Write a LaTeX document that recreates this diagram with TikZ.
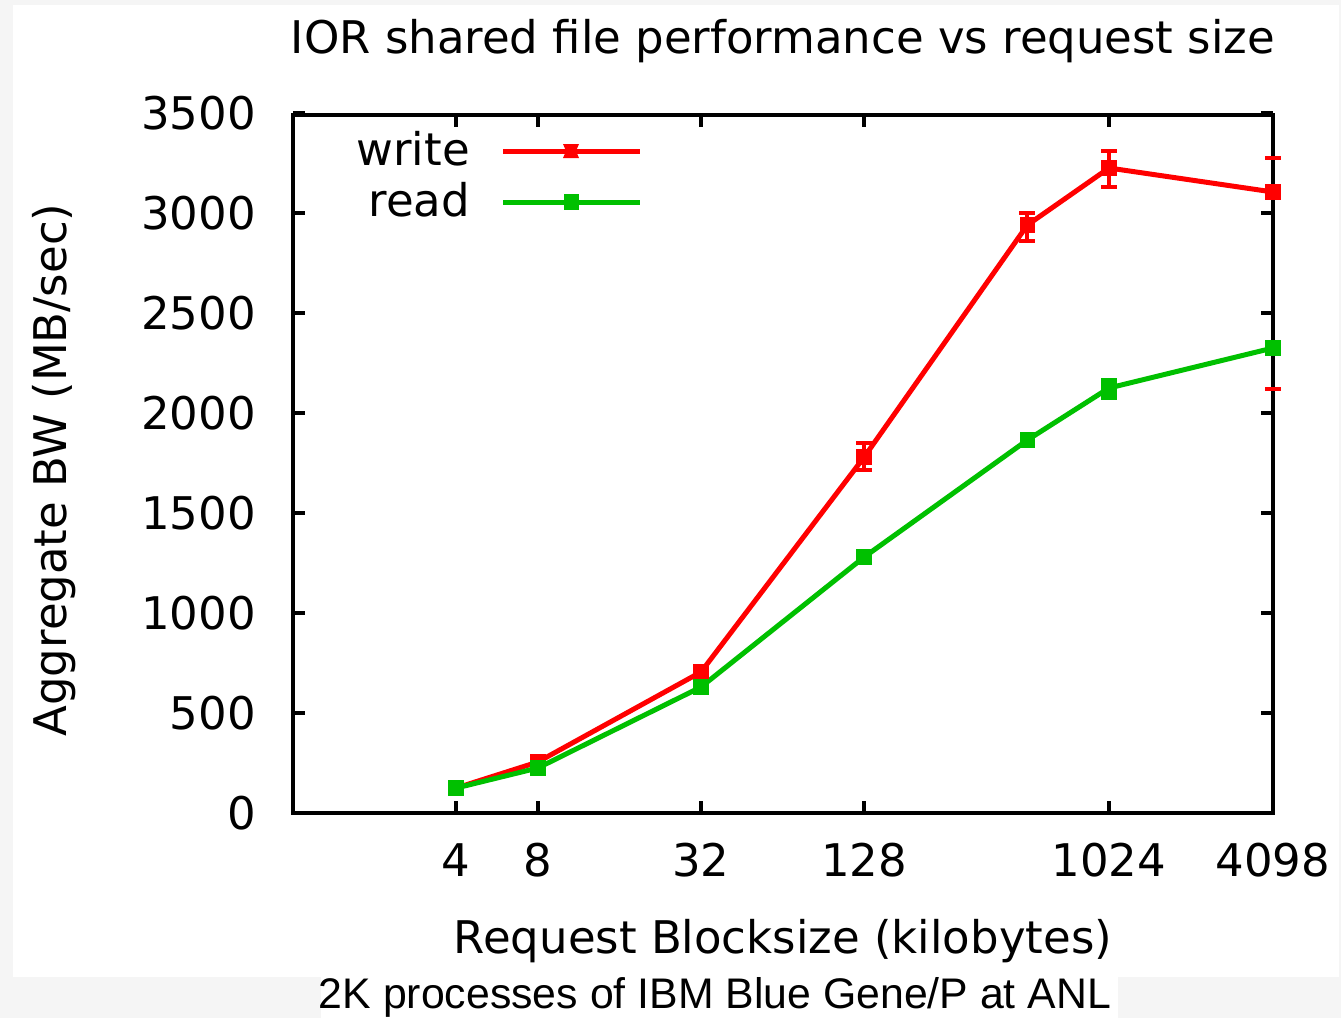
\documentclass[tikz,border=0pt]{standalone}
\usepackage{fontspec}
\newfontfamily\plotfont{DejaVu Sans}
\newfontfamily\capfont{Liberation Sans}
\definecolor{wcol}{HTML}{FF0000}
\definecolor{rcol}{HTML}{00C000}
\definecolor{pagegray}{HTML}{F5F5F5}
\begin{document}
\begin{tikzpicture}[x=1pt,y=-1pt,
  frameline/.style={line width=4pt,black,line cap=rect},
  tickmark/.style={line width=4pt,black},
  series/.style={line width=5pt,line join=round},
  ebar/.style={line width=4pt},
  wmark/.style={rectangle,fill=wcol,minimum size=15.5pt,inner sep=0pt},
  rmark/.style={rectangle,fill=rcol,minimum size=15.5pt,inner sep=0pt},
  lbl/.style={font=\plotfont\fontsize{45}{54}\selectfont,inner sep=0pt},
  caption/.style={font=\capfont\fontsize{42.8}{50}\selectfont,inner sep=0pt}]

% page and white panels
\useasboundingbox (0,0) rectangle (1341,1018);
\fill[pagegray] (0,0) rectangle (1341,1018);
\fill[white] (13,5) rectangle (1339,977);
\fill[white] (321,977) rectangle (1118,1018);

% title
\node[lbl,anchor=base] (title) at (783,53) {IOR shared file performance vs request size};

% y ticks and labels (0..3500, 200px per 1000)
\foreach \v in {0,500,...,3500} {
  \pgfmathsetmacro{\yy}{813-0.2*\v}
  \draw[tickmark] (293,\yy) -- (305,\yy);
  \draw[tickmark] (1273,\yy) -- (1261,\yy);
  \node[lbl,anchor=base east] (yl\v) at (256,\yy+16) {\v};
}
% x ticks and labels (log2 scale)
\foreach \xx/\t in {456.2/4,537.8/8,701/32,864.2/128,1109/1024,1273/4098} {
  \draw[tickmark] (\xx,813) -- (\xx,801);
  \draw[tickmark] (\xx,115) -- (\xx,127);
  \node[lbl,anchor=base] (xl\t) at (\xx,876) {\t};
}

% axis titles
\node[lbl,anchor=base] (xtitle) at (783,953) {Request Blocksize (kilobytes)};
\node[lbl,anchor=base,rotate=90] (ytitle) at (66,470) {Aggregate BW (MB/sec)};

% data points
\coordinate (w1) at (456.2,788);
\coordinate (w2) at (537.8,762);
\coordinate (w3) at (701,672);
\coordinate (w4) at (864.2,457);
\coordinate (w5) at (1027.4,225);
\coordinate (w6) at (1109,168);
\coordinate (w7) at (1273,192);
\coordinate (r1) at (456.2,788);
\coordinate (r2) at (537.8,768);
\coordinate (r3) at (701,687);
\coordinate (r4) at (864.2,557);
\coordinate (r5) at (1027.4,440);
\coordinate (r6) at (1109,388);
\coordinate (r7) at (1273,348);

% curves and error-bar stems
\draw[series,wcol] (w1) -- (w2) -- (w3) -- (w4) -- (w5) -- (w6) -- (w7);
\foreach \xx/\ya/\yb in {864.2/443/470,1027.4/213/241,1109/151/187,1273/158/389}
  \draw[ebar,wcol] (\xx,\ya) -- (\xx,\yb);
\draw[series,rcol] (r1) -- (r2) -- (r3) -- (r4) -- (r5) -- (r6) -- (r7);
\draw[ebar,rcol] (1109,380) -- (1109,398);

% frame
\draw[frameline] (293,115) rectangle (1273,813);

% error-bar caps and point markers
\foreach \xx/\ya/\yb in {864.2/443/470,1027.4/213/241,1109/151/187,1273/158/389} {
  \draw[ebar,wcol] (\xx-8,\ya) -- (\xx+8,\ya);
  \draw[ebar,wcol] (\xx-8,\yb) -- (\xx+8,\yb);
}
\foreach \p in {w1,w2,w3,w4,w5,w6,w7} \node[wmark] at (\p) {};
\draw[ebar,rcol] (1101,380) -- (1117,380);
\draw[ebar,rcol] (1101,398) -- (1117,398);
\foreach \p in {r1,r2,r3,r4,r5,r6,r7} \node[rmark] at (\p) {};

% legend
\node[lbl,anchor=base east] (kwrite) at (470,165) {write};
\node[lbl,anchor=base east] (kread) at (470,216) {read};
\coordinate (kw0) at (503,151);
\coordinate (kw1) at (640,151);
\coordinate (kr0) at (503,202);
\coordinate (kr1) at (640,202);
\draw[series,wcol] (kw0) -- (kw1);
\fill[wcol] (563,144) -- (579,144) -- (576,151) -- (579,158) -- (563,158) -- (566,151) -- cycle;
\draw[series,rcol] (kr0) -- (kr1);
\node[rmark] at (571.5,202) {};

% caption
\node[caption,anchor=base] (cap) at (715,1008) {2K processes of IBM Blue Gene/P at ANL};
\end{tikzpicture}
\end{document}
